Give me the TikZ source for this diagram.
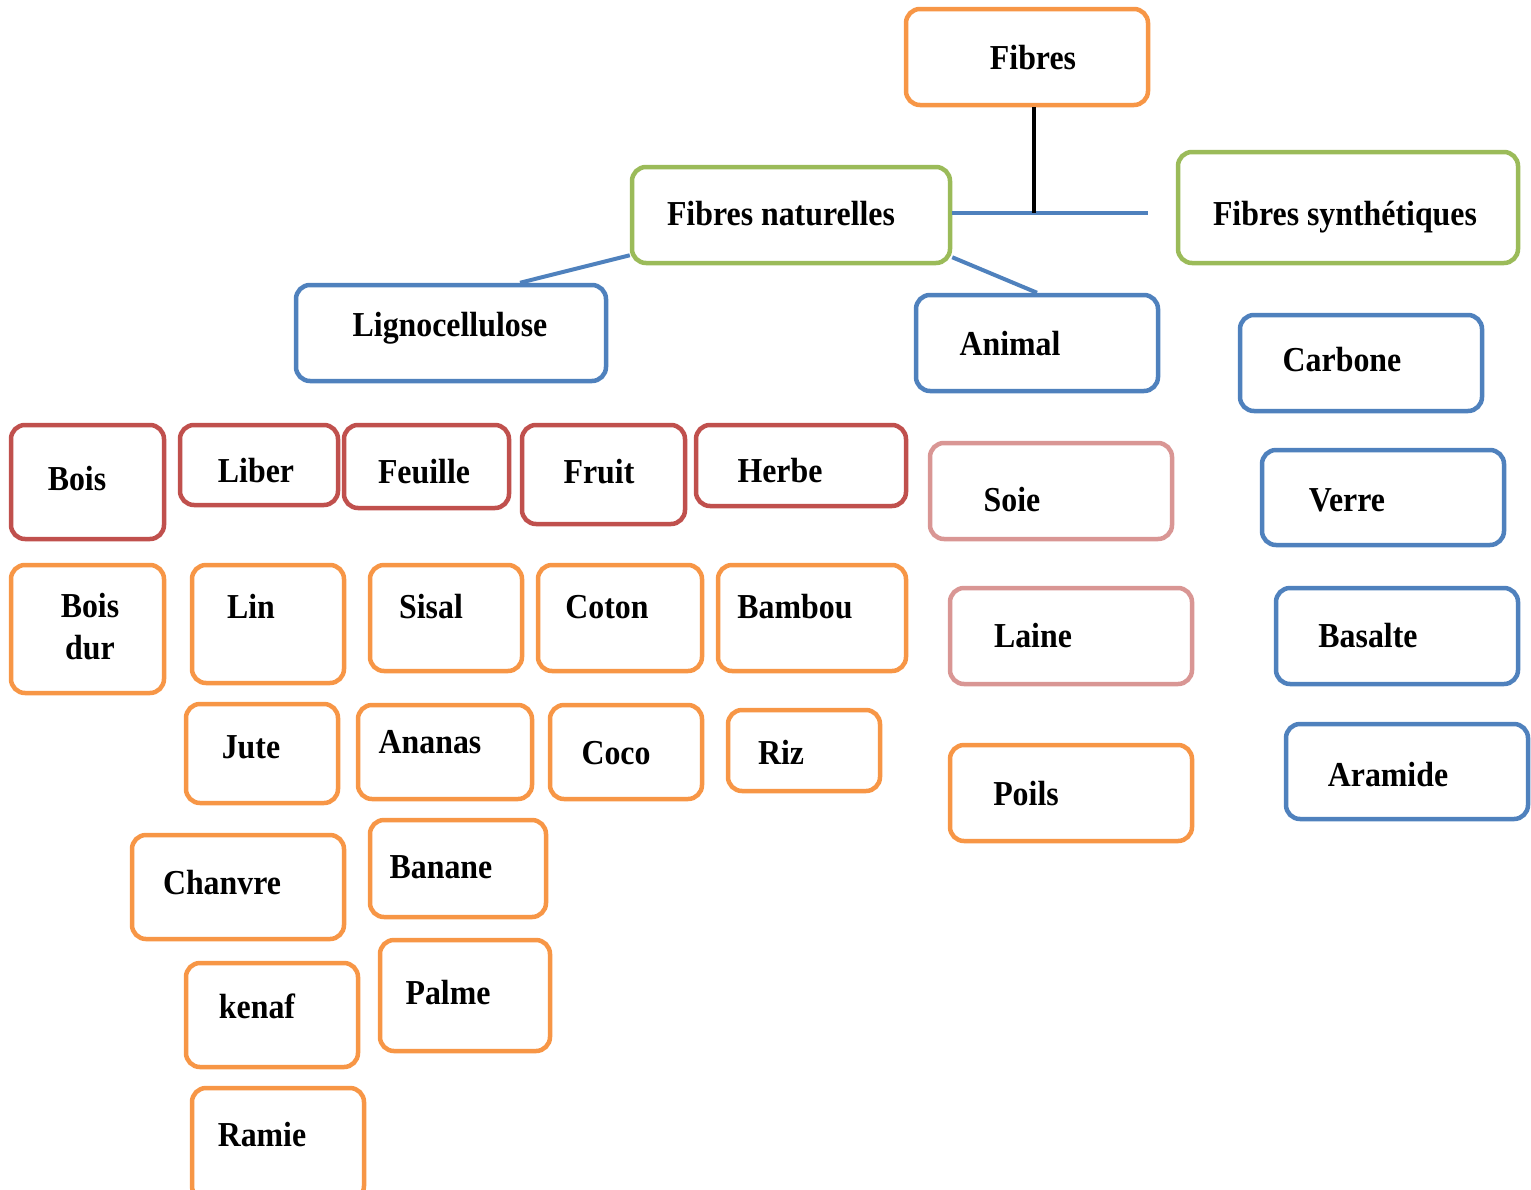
\documentclass[tikz,border=0pt]{standalone}
\usepackage{fontspec}
\setmainfont{Liberation Serif}[FakeStretch=0.91]
\usetikzlibrary{fit,calc}
\definecolor{cOr}{HTML}{F79646}
\definecolor{cGr}{HTML}{9BBB59}
\definecolor{cBl}{HTML}{4F81BD}
\definecolor{cRd}{HTML}{C0504D}
\definecolor{cPk}{HTML}{D99694}
\tikzset{
  box/.style={draw=#1, line width=4.5pt, rounded corners=14pt, fill=white, inner sep=0pt},
  lbl/.style={anchor=base, font=\bfseries\fontsize{35}{42}\selectfont, inner sep=0pt, align=center},
  link/.style={draw=cBl, line width=4pt},
  stem/.style={draw=black, line width=4pt}
}
\newcommand\tx[4]{\node[lbl] (#1-t) at (#2,#3+10) {#4};}
\begin{document}
\begin{tikzpicture}[x=1pt,y=-1pt]
\useasboundingbox (0,0) rectangle (1531,1189);
\clip (0,0) rectangle (1531,1189);
\coordinate (junc) at (1034,213);
\coordinate (hend) at (1148,213);
% boxes
\node[box=cOr, fit={(906,9)(1148,105)}] (fibres) {};
\node[box=cGr, fit={(632,167)(950,263)}] (nat) {};
\node[box=cGr, fit={(1178,152)(1518,263)}] (syn) {};
\node[box=cBl, fit={(296,285)(606,381)}] (ligno) {};
\node[box=cBl, fit={(916,295)(1158,391)}] (animal) {};
\node[box=cBl, fit={(1240,315)(1482,411)}] (carbone) {};
\node[box=cRd, fit={(11,425)(164,539)}] (bois) {};
\node[box=cRd, fit={(180,425)(338,505)}] (liber) {};
\node[box=cRd, fit={(344,425)(509,508)}] (feuille) {};
\node[box=cRd, fit={(522,425)(685,524)}] (fruit) {};
\node[box=cRd, fit={(696,425)(906,506)}] (herbe) {};
\node[box=cPk, fit={(930,443)(1172,539)}] (soie) {};
\node[box=cBl, fit={(1262,450)(1504,545)}] (verre) {};
\node[box=cOr, fit={(11,565)(164,693)}] (boisdur) {};
\node[box=cOr, fit={(192,565)(344,683)}] (lin) {};
\node[box=cOr, fit={(370,565)(522,671)}] (sisal) {};
\node[box=cOr, fit={(538,565)(702,671)}] (coton) {};
\node[box=cOr, fit={(718,565)(906,671)}] (bambou) {};
\node[box=cPk, fit={(950,588)(1192,684)}] (laine) {};
\node[box=cBl, fit={(1276,588)(1518,684)}] (basalte) {};
\node[box=cOr, fit={(186,704)(338,803)}] (jute) {};
\node[box=cOr, fit={(358,705)(532,799)}] (ananas) {};
\node[box=cOr, fit={(550,705)(702,799)}] (coco) {};
\node[box=cOr, fit={(728,710)(880,791)}] (riz) {};
\node[box=cOr, fit={(950,745)(1192,841)}] (poils) {};
\node[box=cBl, fit={(1286,724)(1528,819)}] (aramide) {};
\node[box=cOr, fit={(132,835)(344,939)}] (chanvre) {};
\node[box=cOr, fit={(370,820)(546,917)}] (banane) {};
\node[box=cOr, fit={(186,963)(358,1067)}] (kenaf) {};
\node[box=cOr, fit={(380,940)(550,1051)}] (palme) {};
\node[box=cOr, fit={(192,1088)(364,1200)}] (ramie) {};
% connectors
\draw[link] (nat.east |- junc) -- (hend);
\draw[stem] (junc |- fibres.south) -- (junc);
\draw[link] ([yshift=10pt]nat.south west) -- ([xshift=69pt]ligno.north);
\draw[link] ([yshift=8pt]nat.south east) -- (animal.north);
% texts
\tx{fibres}{1033}{59}{Fibres}
\tx{nat}{781}{215}{Fibres naturelles}
\tx{syn}{1345}{215}{Fibres synthétiques}
\tx{ligno}{450}{326}{Lignocellulose}
\tx{animal}{1010}{345}{Animal}
\tx{carbone}{1342}{361}{Carbone}
\tx{bois}{77}{480}{Bois}
\tx{liber}{256}{472}{Liber}
\tx{feuille}{424}{473}{Feuille}
\tx{fruit}{599}{473}{Fruit}
\tx{herbe}{780}{472}{Herbe}
\tx{soie}{1012}{501}{Soie}
\tx{verre}{1347}{501}{Verre}
\tx{boisdur}{90}{649}{Bois\\dur}
\tx{lin}{251}{608}{Lin}
\tx{sisal}{431}{608}{Sisal}
\tx{coton}{607}{608}{Coton}
\tx{bambou}{795}{608}{Bambou}
\tx{laine}{1033}{637}{Laine}
\tx{basalte}{1368}{637}{Basalte}
\tx{jute}{251}{748}{Jute}
\tx{ananas}{430}{743}{Ananas}
\tx{coco}{616}{754}{Coco}
\tx{riz}{781}{754}{Riz}
\tx{poils}{1026}{795}{Poils}
\tx{aramide}{1388}{776}{Aramide}
\tx{chanvre}{222}{884}{Chanvre}
\tx{banane}{441}{868}{Banane}
\tx{kenaf}{257}{1008}{kenaf}
\tx{palme}{448}{994}{Palme}
\tx{ramie}{262}{1136}{Ramie}
\end{tikzpicture}
\end{document}
